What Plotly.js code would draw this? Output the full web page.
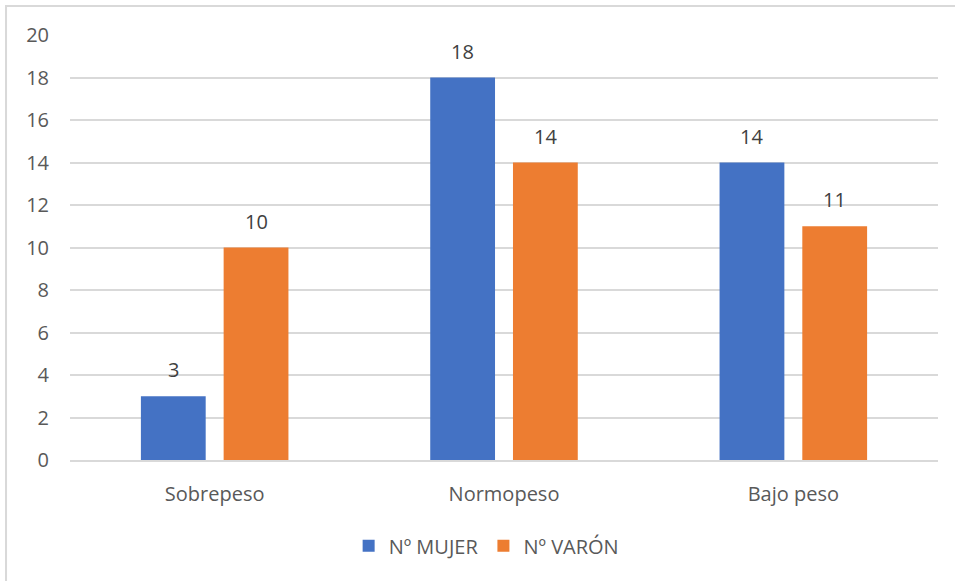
<!DOCTYPE html>
<html>
<head>
<meta charset="utf-8">
<script src="https://cdn.plot.ly/plotly-3.0.1.min.js"></script>
<style>html,body{margin:0;padding:0;background:#fff;}#chart{width:955px;height:581px;}</style>
</head>
<body>
<div id="chart"></div>
<script>
const categories = ["Sobrepeso", "Normopeso", "Bajo peso"];
const mujer = [3, 18, 14];
const varon = [10, 14, 11];
const seriesNames = ["Nº MUJER", "Nº VARÓN"];
const yTicks = [0, 2, 4, 6, 8, 10, 12, 14, 16, 18, 20];

const font = "'Open Sans', Lato, 'Liberation Sans', sans-serif";
const colors = ["#4472C4", "#ED7D31"];

const traces = [
  {type: "bar", name: seriesNames[0], x: categories, y: mujer, marker: {color: colors[0]}},
  {type: "bar", name: seriesNames[1], x: categories, y: varon, marker: {color: colors[1]}}
];

// data labels placed above each bar (group offset of half a bar slot)
const annotations = [];
[mujer, varon].forEach((vals, s) => {
  vals.forEach((v, i) => {
    annotations.push({x: categories[i], y: v, xref: "x", yref: "y", text: String(v),
      showarrow: false, yanchor: "bottom", yshift: 11, xshift: s === 0 ? -41.5 : 41.5,
      font: {family: font, size: 20, color: "#404040"}});
  });
});

const layout = {
  width: 955, height: 581,
  margin: {l: 70, r: 17, t: 35, b: 121},
  paper_bgcolor: "#fff", plot_bgcolor: "#fff",
  font: {family: font, color: "#595959", size: 20},
  barmode: "group", bargap: 0.428, bargroupgap: 0.217,
  xaxis: {showgrid: false, showline: true, linecolor: "#d9d9d9", linewidth: 2,
          ticks: "outside", ticklen: 15, tickcolor: "rgba(0,0,0,0)", tickfont: {size: 20, color: "#595959"}},
  yaxis: {range: [0, 20], tickvals: yTicks, showgrid: true, gridcolor: "#d9d9d9", gridwidth: 2,
          zeroline: false, showline: false, ticks: "outside", ticklen: 16, tickcolor: "rgba(0,0,0,0)",
          tickfont: {size: 20, color: "#595959"}},
  showlegend: true,
  legend: {orientation: "h", x: 0.48, xanchor: "center", y: -0.202, yanchor: "middle",
           font: {size: 20, color: "#595959"}, itemwidth: 30, tracegroupgap: 0},
  annotations: annotations,
  shapes: [{type: "rect", xref: "paper", yref: "paper", x0: -0.0737, y0: -0.5, x1: 1.1, y1: 1.068,
            line: {color: "#d9d9d9", width: 2}, layer: "below"}]
};

Plotly.newPlot("chart", traces, layout, {displayModeBar: false, staticPlot: true});
</script>
</body>
</html>
